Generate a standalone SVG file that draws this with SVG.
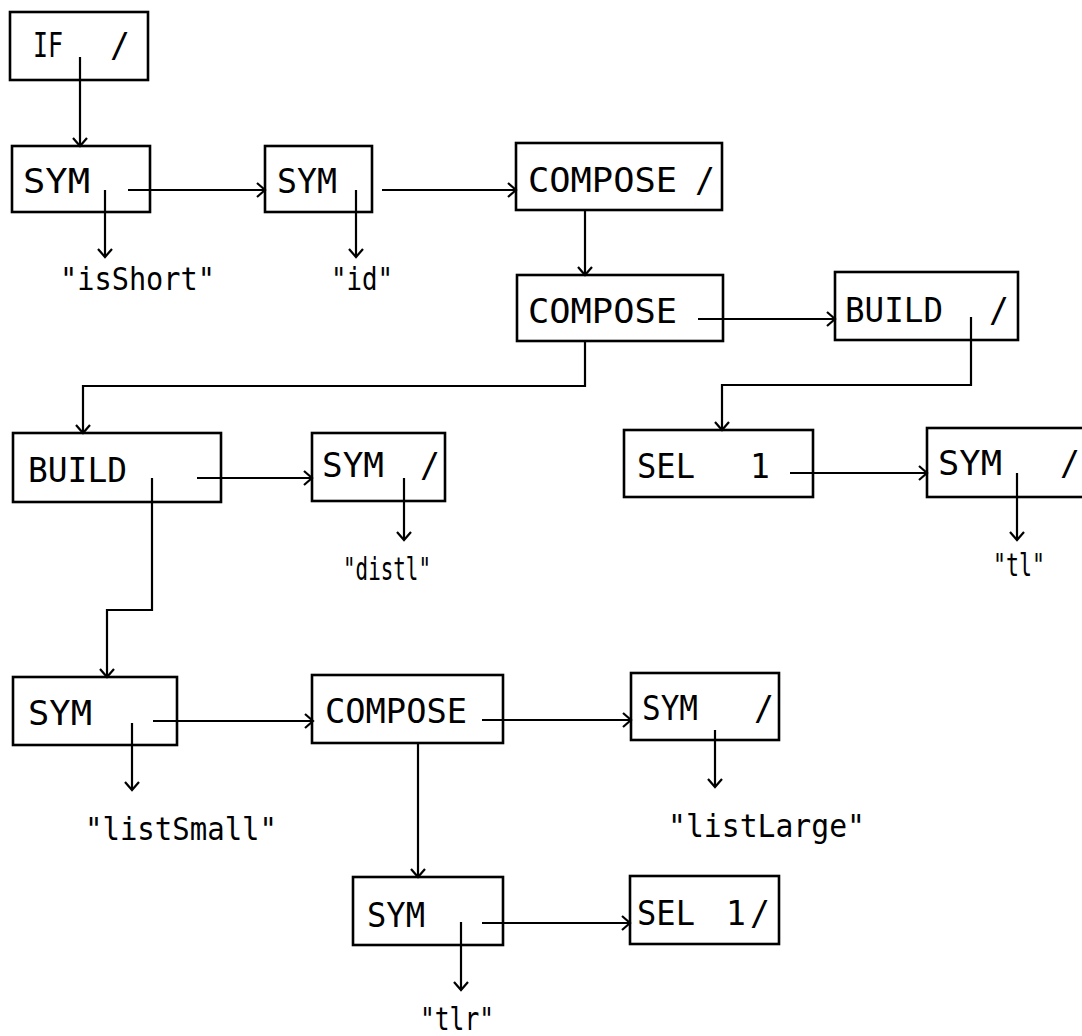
<svg xmlns="http://www.w3.org/2000/svg" width="1082" height="1036" viewBox="0 0 1082 1036">
<style>
.box{fill:none;stroke:#000;stroke-width:2.6}
.t{font-family:"DejaVu Sans Mono","Liberation Mono",monospace;font-size:33px;fill:#000}
.l{font-family:"DejaVu Sans Mono","Liberation Mono",monospace;font-size:32px;fill:#000}
.c{fill:none;stroke:#000;stroke-width:2.2}
</style>
<defs>
<marker id="ah" markerUnits="userSpaceOnUse" markerWidth="20" markerHeight="20" viewBox="-10 -10 20 20" refX="0" refY="0" orient="auto">
<path d="M-8,-7 L0,0 L-8,7" fill="none" stroke="#000" stroke-width="2.2"/>
</marker>
</defs>
<rect width="1082" height="1036" fill="#fff"/>
<g id="connectors" class="c">
<path marker-end="url(#ah)" d="M80,57 V146"/>
<path marker-end="url(#ah)" d="M128,190 H265"/>
<path marker-end="url(#ah)" d="M105,190 V257"/>
<path marker-end="url(#ah)" d="M382,190 H516"/>
<path marker-end="url(#ah)" d="M356,190 V257"/>
<path marker-end="url(#ah)" d="M585,210 V275"/>
<path marker-end="url(#ah)" d="M698,319 H835"/>
<path marker-end="url(#ah)" d="M585,341 V386 H83 V433"/>
<path marker-end="url(#ah)" d="M971,317 V385 H722 V430"/>
<path marker-end="url(#ah)" d="M790,473 H927"/>
<path marker-end="url(#ah)" d="M1017,473 V540"/>
<path marker-end="url(#ah)" d="M197,478 H312"/>
<path marker-end="url(#ah)" d="M152,478 V610 H107 V677"/>
<path marker-end="url(#ah)" d="M404,478 V540"/>
<path marker-end="url(#ah)" d="M153,721 H313"/>
<path marker-end="url(#ah)" d="M132,723 V790"/>
<path marker-end="url(#ah)" d="M482,720 H631"/>
<path marker-end="url(#ah)" d="M418,743 V877"/>
<path marker-end="url(#ah)" d="M715,730 V787"/>
<path marker-end="url(#ah)" d="M482,923 H630"/>
<path marker-end="url(#ah)" d="M461,922 V990"/>
</g>
<g id="n-if"><rect class="box" x="10" y="12" width="138" height="68"/><text class="t" y="57"><tspan x="33" textLength="30" lengthAdjust="spacingAndGlyphs">IF</tspan><tspan x="110">/</tspan></text></g>
<g id="n-sym1"><rect class="box" x="12" y="146" width="138" height="66"/><text class="t" x="23" y="193" textLength="67" lengthAdjust="spacingAndGlyphs">SYM</text></g>
<g id="n-sym2"><rect class="box" x="265" y="146" width="107" height="66"/><text class="t" x="277" y="193" textLength="60" lengthAdjust="spacingAndGlyphs">SYM</text></g>
<g id="n-compose1"><rect class="box" x="516" y="143" width="206" height="67"/><text class="t" y="192"><tspan x="528" textLength="149" lengthAdjust="spacingAndGlyphs">COMPOSE</tspan><tspan x="695">/</tspan></text></g>
<g id="n-compose2"><rect class="box" x="517" y="275" width="206" height="66"/><text class="t" x="528" y="323" textLength="149" lengthAdjust="spacingAndGlyphs">COMPOSE</text></g>
<g id="n-build1"><rect class="box" x="835" y="272" width="183" height="68"/><text class="t" y="322"><tspan x="845" textLength="98" lengthAdjust="spacingAndGlyphs">BUILD</tspan><tspan x="989">/</tspan></text></g>
<g id="n-build2"><rect class="box" x="13" y="433" width="208" height="69"/><text class="t" x="28" y="482" textLength="99" lengthAdjust="spacingAndGlyphs">BUILD</text></g>
<g id="n-sym3"><rect class="box" x="312" y="433" width="133" height="68"/><text class="t" y="477"><tspan x="322" textLength="62" lengthAdjust="spacingAndGlyphs">SYM</tspan><tspan x="420">/</tspan></text></g>
<g id="n-sel1"><rect class="box" x="624" y="430" width="189" height="67"/><text class="t" y="478"><tspan x="637" textLength="58" lengthAdjust="spacingAndGlyphs">SEL</tspan><tspan x="750">1</tspan></text></g>
<g id="n-sym-tl"><rect class="box" x="927" y="428" width="162" height="69"/><text class="t" y="475"><tspan x="938" textLength="64" lengthAdjust="spacingAndGlyphs">SYM</tspan><tspan x="1060">/</tspan></text></g>
<g id="n-sym4"><rect class="box" x="13" y="677" width="164" height="68"/><text class="t" x="28" y="725" textLength="64" lengthAdjust="spacingAndGlyphs">SYM</text></g>
<g id="n-compose3"><rect class="box" x="312" y="675" width="191" height="68"/><text class="t" x="325" y="723" textLength="142" lengthAdjust="spacingAndGlyphs">COMPOSE</text></g>
<g id="n-sym5"><rect class="box" x="631" y="673" width="148" height="67"/><text class="t" y="720"><tspan x="642" textLength="56" lengthAdjust="spacingAndGlyphs">SYM</tspan><tspan x="754">/</tspan></text></g>
<g id="n-sym6"><rect class="box" x="353" y="877" width="150" height="68"/><text class="t" x="367" y="927" textLength="58" lengthAdjust="spacingAndGlyphs">SYM</text></g>
<g id="n-sel2"><rect class="box" x="630" y="876" width="149" height="68"/><text class="t" y="925"><tspan x="637" textLength="58" lengthAdjust="spacingAndGlyphs">SEL</tspan><tspan x="726">1</tspan><tspan x="750">/</tspan></text></g>
<g id="labels">
<text class="l" x="60" y="290" textLength="155" lengthAdjust="spacingAndGlyphs">"isShort"</text>
<text class="l" x="331" y="290" textLength="62" lengthAdjust="spacingAndGlyphs">"id"</text>
<text class="l" x="343" y="580" textLength="88" lengthAdjust="spacingAndGlyphs">"distl"</text>
<text class="l" x="993" y="576" textLength="52" lengthAdjust="spacingAndGlyphs">"tl"</text>
<text class="l" x="85" y="840" textLength="192" lengthAdjust="spacingAndGlyphs">"listSmall"</text>
<text class="l" x="668" y="837" textLength="197" lengthAdjust="spacingAndGlyphs">"listLarge"</text>
<text class="l" x="420" y="1030" textLength="74" lengthAdjust="spacingAndGlyphs">"tlr"</text>
</g>
</svg>
